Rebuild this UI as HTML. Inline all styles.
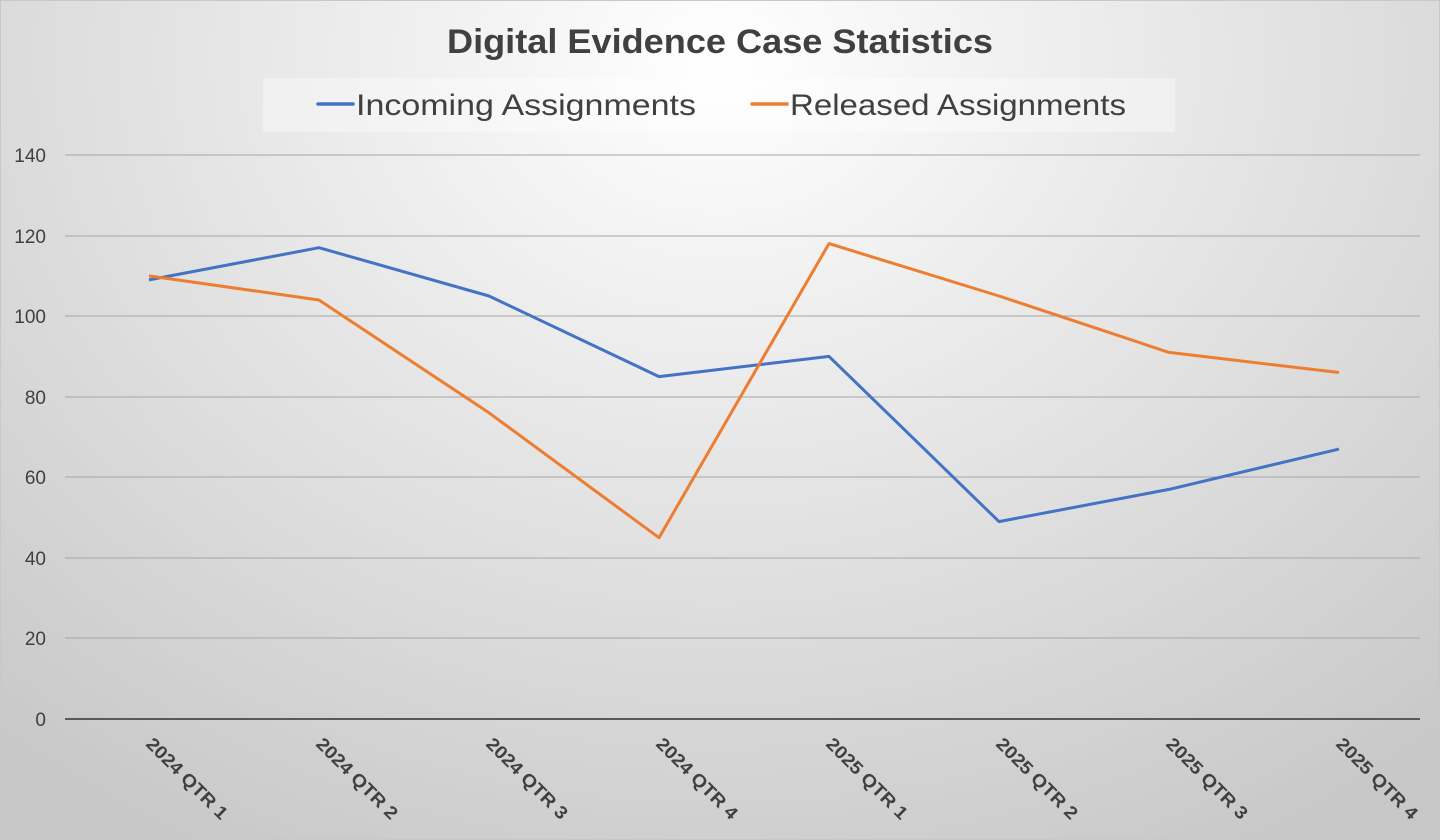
<!DOCTYPE html>
<html><head><meta charset="utf-8"><style>
html,body{margin:0;padding:0;width:1440px;height:840px;overflow:hidden}
body{background:radial-gradient(ellipse 1100px 900px at 720px 60px,#ffffff 0%,#e6e6e6 45%,#c8c8c8 100%);font-family:"Liberation Sans",sans-serif}
</style></head><body>
<svg width="1440" height="840" xmlns="http://www.w3.org/2000/svg" style="position:absolute;left:0;top:0">
<rect x="0.5" y="0.5" width="1439" height="839" fill="none" stroke="#c8c8c8"/>
<text x="447" y="53" textLength="546" lengthAdjust="spacingAndGlyphs" font-size="34" font-weight="bold" fill="#404040">Digital Evidence Case Statistics</text>
<rect x="263" y="78" width="912" height="54" fill="#ffffff" opacity="0.35"/>
<line x1="318" y1="104" x2="353" y2="104" stroke="#4472c4" stroke-width="3.5" stroke-linecap="round"/>
<text x="356" y="115" textLength="340" lengthAdjust="spacingAndGlyphs" font-size="30" fill="#404040">Incoming Assignments</text>
<line x1="752" y1="104" x2="787" y2="104" stroke="#ed7d31" stroke-width="3.5" stroke-linecap="round"/>
<text x="790" y="115" textLength="336" lengthAdjust="spacingAndGlyphs" font-size="30" fill="#404040">Released Assignments</text>
<g stroke="#a6a6a6" stroke-width="1">
<line x1="65" y1="155" x2="1420" y2="155"/><line x1="65" y1="236" x2="1420" y2="236"/><line x1="65" y1="316" x2="1420" y2="316"/><line x1="65" y1="397" x2="1420" y2="397"/><line x1="65" y1="477" x2="1420" y2="477"/><line x1="65" y1="558" x2="1420" y2="558"/><line x1="65" y1="638" x2="1420" y2="638"/>
</g>
<line x1="65" y1="719" x2="1420" y2="719" stroke="#595959" stroke-width="2"/>
<g font-size="19" fill="#404040" text-anchor="end">
<text x="46" y="162">140</text><text x="46" y="243">120</text><text x="46" y="323">100</text><text x="46" y="404">80</text><text x="46" y="484">60</text><text x="46" y="565">40</text><text x="46" y="645">20</text><text x="46" y="726">0</text>
</g>
<g font-size="18" font-weight="bold" fill="#404040">
<text transform="translate(145,745) rotate(45)" textLength="107" lengthAdjust="spacingAndGlyphs">2024 QTR 1</text>
<text transform="translate(315,745) rotate(45)" textLength="107" lengthAdjust="spacingAndGlyphs">2024 QTR 2</text>
<text transform="translate(485,745) rotate(45)" textLength="107" lengthAdjust="spacingAndGlyphs">2024 QTR 3</text>
<text transform="translate(655,745) rotate(45)" textLength="107" lengthAdjust="spacingAndGlyphs">2024 QTR 4</text>
<text transform="translate(825,745) rotate(45)" textLength="107" lengthAdjust="spacingAndGlyphs">2025 QTR 1</text>
<text transform="translate(995,745) rotate(45)" textLength="107" lengthAdjust="spacingAndGlyphs">2025 QTR 2</text>
<text transform="translate(1165,745) rotate(45)" textLength="107" lengthAdjust="spacingAndGlyphs">2025 QTR 3</text>
<text transform="translate(1335,745) rotate(45)" textLength="107" lengthAdjust="spacingAndGlyphs">2025 QTR 4</text>
</g>
<polyline fill="none" stroke="#4472c4" stroke-width="3" stroke-linejoin="round" points="149,279.9 319,247.7 489,296 659,376.6 829,356.4 999,521.6 1169,489.4 1339,449.1"/>
<polyline fill="none" stroke="#ed7d31" stroke-width="3" stroke-linejoin="round" points="149,275.9 319,300 489,412.8 659,537.7 829,243.6 999,296 1169,352.4 1339,372.5"/>
</svg>
</body></html>
